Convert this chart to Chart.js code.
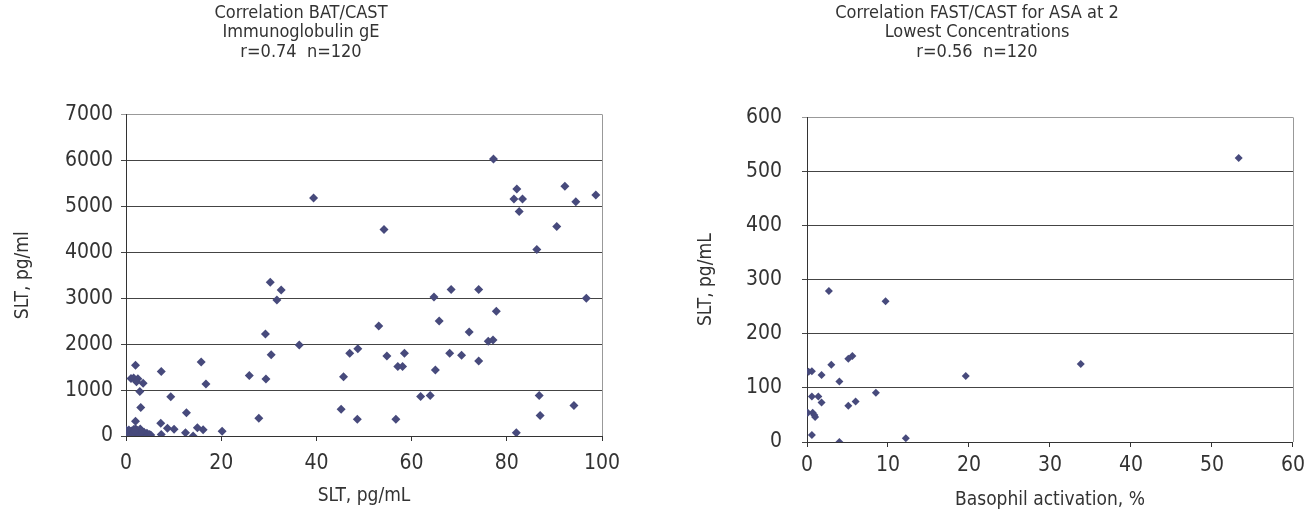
<!DOCTYPE html>
<html>
<head>
<meta charset="utf-8">
<script src="https://cdn.jsdelivr.net/npm/chart.js@4.4.1/dist/chart.umd.min.js"></script>
<style>
    html, body { margin: 0; padding: 0; background: #fff; }
    .wrap { position: absolute; top: 0; height: 515px; }
</style>
</head>
<body>
<div class="wrap" style="left:0;width:655px"><canvas id="batChart" width="655" height="515"></canvas></div>
<div class="wrap" style="left:655px;width:656px"><canvas id="fastChart" width="656" height="515"></canvas></div>
<script>
// BAT/CAST (left) - SLT pg/mL vs SLT pg/ml, 120 samples
const batX = [
    39.4, 54.2, 30.3, 32.6, 31.7, 53.1, 29.3, 64.7, 65.8, 36.4, 30.5, 47.0, 48.7, 54.8, 58.5, 57.1, 58.1, 65.0,
    25.9, 29.4, 45.7, 61.9, 63.9, 27.9, 45.2, 48.6, 56.7,
    77.2, 82.1, 81.5, 83.3, 92.2, 94.5, 98.7, 82.6, 90.5, 86.3, 96.7, 68.3, 74.1, 77.8, 72.1, 76.1, 77.1,
    68.0, 70.5, 74.1, 86.8, 94.1, 87.0, 82.0,
    2.0, 1.05, 1.6, 2.5, 2.2, 3.6, 2.9, 3.1, 2.0, 7.4, 9.4, 15.8, 16.8, 12.7, 7.3, 8.7, 10.1, 12.5, 14.1,
    15.0, 16.2, 20.2, 7.4,
    0.1, 0.2, 0.3, 0.4, 0.5, 0.6, 0.8, 0.9, 1.0, 1.1, 1.2, 1.3, 1.5, 1.6, 1.7, 1.8, 1.9, 2.0, 2.1, 2.2,
    2.3, 2.4, 2.5, 2.6, 2.8, 2.9, 3.0, 3.1, 3.2, 3.4, 3.5, 3.7, 3.8, 4.0, 4.2, 4.4, 4.6, 4.9, 5.2, 0.0,
    0.7, 1.4, 2.7, 3.3, 0.3, 1.9
];
const batY = [
    5179, 4496, 3347, 3180, 2961, 2394, 2220, 3027, 2503, 1980, 1771, 1799, 1901, 1740, 1799, 1515, 1515, 1435,
    1319, 1239, 1291, 861, 883, 388, 584, 366, 366,
    6029, 5375, 5157, 5157, 5434, 5098, 5244, 4888, 4561, 4060, 2998, 3188, 3188, 2715, 2263, 2061, 2089,
    1799, 1755, 1631, 883, 665, 447, 70,
    1540, 1250, 1265, 1244, 1180, 1150, 970, 620, 320, 1405, 855, 1610, 1130, 506, 280, 170, 148, 70, 0,
    180, 135, 105, 35,
    120, 40, 90, 15, 60, 130, 30, 75, 10, 110, 50, 20, 95, 140, 35, 70, 5, 160, 45, 85,
    25, 120, 60, 10, 90, 40, 150, 20, 70, 30, 55, 15, 80, 40, 25, 60, 10, 35, 20, 130,
    100, 65, 50, 100, 0, 110
];

// FAST/CAST for ASA (right) - basophil activation % vs SLT pg/mL
const fastX = [53.3, 33.8, 19.6, 2.7, 9.7, 0.2, 0.6, 3.0, 5.1, 5.6, 1.8, 4.0, 8.5, 0.6, 1.4, 1.8, 5.1, 6.0, 0.1, 0.7, 0.9, 1.0, 0.6, 4.0, 12.2];
const fastY = [525, 144, 122, 279, 260, 130, 131, 143, 154, 159, 124, 112, 91, 84, 84, 73, 67, 75, 54, 54, 50, 46, 13, 0, 7];

const batTitle = ['Correlation BAT/CAST', 'Immunoglobulin gE', 'r=0.74  n=120'];
const fastTitle = ['Correlation FAST/CAST for ASA at 2', 'Lowest Concentrations', 'r=0.56  n=120'];

const FONT = "'Liberation Sans Narrow', 'DejaVu Sans Condensed', 'Arial Narrow', sans-serif";
const TEXT = '#333';
const MARKER = '#474a7c';

// right edge of the plot box (Excel style frame)
const plotFrame = {
    id: 'plotFrame',
    beforeDatasetsDraw(chart) {
        const { ctx, chartArea: a } = chart;
        const x = Math.round(a.right) + 0.5;
        ctx.save();
        ctx.strokeStyle = '#999';
        ctx.lineWidth = 1;
        ctx.beginPath();
        ctx.moveTo(x, a.top);
        ctx.lineTo(x, a.bottom);
        ctx.stroke();
        ctx.restore();
    }
};

function makeScatter(id, o) {
    const points = o.xs.map((x, i) => ({ x: x, y: o.ys[i] }));
    return new Chart(document.getElementById(id), {
        type: 'scatter',
        data: {
            datasets: [{
                data: points,
                pointStyle: 'rectRot',
                pointRadius: o.radius,
                pointBackgroundColor: MARKER,
                pointBorderColor: MARKER,
                pointBorderWidth: 0
            }]
        },
        options: {
            responsive: false,
            animation: false,
            devicePixelRatio: 1,
            layout: { padding: { left: 0, right: o.rightPad, top: 0, bottom: 0 } },
            plugins: {
                legend: { display: false },
                tooltip: { enabled: false },
                title: {
                    display: true,
                    text: o.title,
                    color: TEXT,
                    font: { family: FONT, size: 18, weight: 'normal', lineHeight: 1.1 },
                    padding: { top: o.titleTop, bottom: o.titleBottom }
                }
            },
            scales: {
                x: {
                    type: 'linear',
                    min: 0,
                    max: o.xMax,
                    afterFit: s => { s.height = o.xAxisHeight; },
                    ticks: {
                        stepSize: o.xStep, color: TEXT, padding: o.xTickPad,
                        font: { family: FONT, size: 21 },
                        callback: v => String(v)
                    },
                    grid: { drawOnChartArea: false, drawTicks: true, tickLength: 5, color: '#333' },
                    border: { display: true, color: '#333', width: 1 },
                    title: {
                        display: true,
                        text: o.xTitle,
                        color: TEXT,
                        font: { family: FONT, size: 19 },
                        padding: { top: 0, bottom: o.xTitlePad }
                    }
                },
                y: {
                    min: 0,
                    max: o.yMax,
                    afterFit: s => { s.width = o.yAxisWidth; },
                    ticks: {
                        stepSize: o.yStep, color: TEXT, padding: o.yTickPad,
                        font: { family: FONT, size: 21 },
                        callback: v => String(v)
                    },
                    grid: {
                        color: c => (c.tick && c.tick.value === o.yMax) ? '#999' : '#444',
                        tickLength: 5
                    },
                    border: { display: true, color: '#333', width: 1 },
                    title: {
                        display: true,
                        text: o.yTitle,
                        color: TEXT,
                        font: { family: FONT, size: 19 },
                        padding: { top: o.yTitlePad, bottom: 0 }
                    }
                }
            }
        },
        plugins: [plotFrame]
    });
}

makeScatter('batChart', {
    xs: batX, ys: batY, radius: 4.5,
    title: batTitle, titleTop: 3, titleBottom: 52,
    xTitle: 'SLT, pg/mL', yTitle: 'SLT, pg/ml',
    xMax: 100, xStep: 20, yMax: 7000, yStep: 1000,
    yAxisWidth: 126, xAxisHeight: 79, rightPad: 53,
    xTickPad: 10, xTitlePad: 8, yTickPad: 8, yTitlePad: 12
});

makeScatter('fastChart', {
    xs: fastX, ys: fastY, radius: 4,
    title: fastTitle, titleTop: 3, titleBottom: 55,
    xTitle: 'Basophil activation, %', yTitle: 'SLT, pg/mL',
    xMax: 60, xStep: 10, yMax: 600, yStep: 100,
    yAxisWidth: 152, xAxisHeight: 73, rightPad: 12,
    xTickPad: 6, xTitlePad: 4, yTickPad: 20, yTitlePad: 40
});
</script>
</body>
</html>
